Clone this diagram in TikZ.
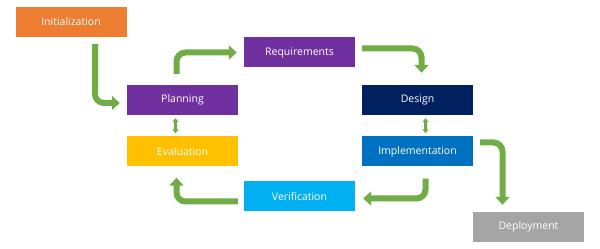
\documentclass[tikz,border=0pt]{standalone}
\usepackage{fontspec}
\setmainfont{Open Sans}
\usetikzlibrary{arrows.meta,calc}
\definecolor{cInit}{HTML}{ED7D31}
\definecolor{cPurple}{HTML}{7030A0}
\definecolor{cDesign}{HTML}{002060}
\definecolor{cImpl}{HTML}{0070C0}
\definecolor{cEval}{HTML}{FFC000}
\definecolor{cVerif}{HTML}{00B0F0}
\definecolor{cDeploy}{HTML}{A5A5A5}
\definecolor{cGreen}{HTML}{70AD47}
\tikzset{
  phase/.style={minimum width=111pt, minimum height=30pt, inner sep=0pt, text=white, font=\fontsize{10.5}{12}\selectfont},
  flow/.style={draw=cGreen, line width=6pt, rounded corners=9pt, -{Triangle[width=14pt,length=8pt]}},
  link/.style={draw=cGreen, line width=2.5pt, {Triangle[width=6pt,length=4pt]}-{Triangle[width=6pt,length=4pt]}}
}
\begin{document}
\begin{tikzpicture}[x=1pt,y=1pt]
\useasboundingbox (0,0) rectangle (600,249);
\node[phase, fill=cInit] (init) at (71,227) {Initialization};
\node[phase, fill=cPurple] (req) at (299.5,196.5) {Requirements};
\node[phase, fill=cPurple] (plan) at (182.5,149) {Planning};
\node[phase, fill=cDesign] (design) at (417.5,149) {Design};
\node[phase, fill=cEval] (eval) at (182.5,97.5) {Evaluation};
\node[phase, fill=cImpl] (impl) at (417.5,97.5) {Implementation};
\node[phase, fill=cVerif] (verif) at (299.5,52.5) {Verification};
\node[phase, fill=cDeploy] (deploy) at (528.5,22) {Deployment};

\draw[flow] ([shift={(24,-7)}]init.south) |- ([shift={(-7,-3)}]plan.west);
\draw[flow] ([shift={(-6,11)}]plan.north) |- ([xshift=-7]req.west);
\draw[flow] ([shift={(7,4)}]req.east) -| ([shift={(4,12)}]design.north);
\draw[flow] ([shift={(7,9)}]impl.east) -| ([shift={(-26,7)}]deploy.north);
\draw[flow] ([shift={(8,-12)}]impl.south) |- ([shift={(8,-2)}]verif.east);
\draw[flow] ([shift={(-6,-5)}]verif.west) -| ([shift={(-6,-11)}]eval.south);
\draw[link] ([shift={(-7,-3)}]plan.south) -- ([shift={(-7,3)}]eval.north);
\draw[link] ([shift={(8,-3)}]design.south) -- ([shift={(8,3)}]impl.north);
\end{tikzpicture}
\end{document}
